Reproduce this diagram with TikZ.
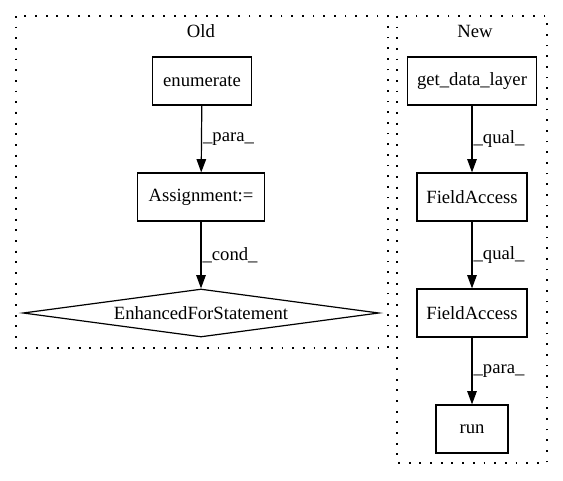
\documentclass[tikz,border=0pt]{standalone}
\usepackage{fontspec}
\setmainfont{Liberation Serif}
\usetikzlibrary{shapes.geometric,arrows.meta}
\begin{document}
\begin{tikzpicture}[x=1pt,y=-1pt,
  txt/.style={font=\fontsize{18.67}{21}\selectfont},
  box/.style={draw,line width=1.2pt,rectangle,inner sep=0pt,txt},
  cluster/.style={draw,line width=1.2pt,dash pattern=on 1.8pt off 8.87pt},
  edge/.style={draw,line width=1.2pt,-{Triangle[length=13.3pt,width=9.5pt]}},
  elabel/.style={txt,anchor=west,inner sep=1pt},
  title/.style={txt}]
\useasboundingbox (0,0) rectangle (563,480);
% clusters
\draw[cluster] (16,16) rectangle (388,348);
\node[title] (toldt) at (201,31) {Old};
\draw[cluster] (397,16) rectangle (547,463);
\node[title] (tnew) at (475,31) {New};
% Old nodes
\node[box,minimum width=99pt,minimum height=48pt] (enum) at (202,81) {enumerate};
\node[box,minimum width=127pt,minimum height=48pt] (assign) at (201,197) {Assignment:=};
\node[draw,line width=1.2pt,diamond,aspect=7.4,inner sep=0pt,minimum width=356pt,minimum height=48pt,txt] (efs) at (201,313) {EnhancedForStatement};
% New nodes
\node[box,minimum width=129pt,minimum height=48pt] (gdl) at (472,81) {get\_data\_layer};
\node[box,minimum width=110pt,minimum height=48pt] (fa1) at (472,197) {FieldAccess};
\node[box,minimum width=110pt,minimum height=48pt] (fa2) at (472,313) {FieldAccess};
\node[box,minimum width=72pt,minimum height=48pt] (run) at (472,429) {run};
% edges
\draw[edge] (enum) -- node[elabel] {\_para\_} (assign);
\draw[edge] (assign) -- node[elabel] {\_cond\_} (efs.north);
\draw[edge] (gdl) -- node[elabel] {\_qual\_} (fa1);
\draw[edge] (fa1) -- node[elabel] {\_qual\_} (fa2);
\draw[edge] (fa2) -- node[elabel] {\_para\_} (run);
\end{tikzpicture}
\end{document}
